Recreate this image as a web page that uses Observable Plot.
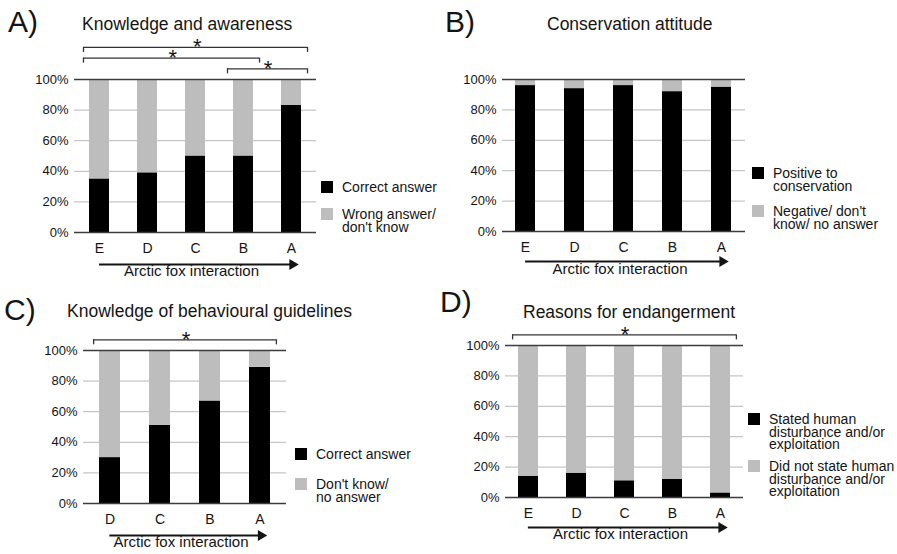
<!DOCTYPE html>
<html>
<head>
<meta charset="utf-8">
<script src="https://cdn.jsdelivr.net/npm/d3@7"></script>
<script src="https://cdn.jsdelivr.net/npm/@observablehq/plot@0.6"></script>
<style>
  html, body { margin: 0; padding: 0; background: #fff; }
  #figure { position: relative; width: 897px; height: 554px; overflow: hidden;
            font-family: "Liberation Sans", Arial, Helvetica, sans-serif; color: #141414; }
  .panel { position: absolute; }
  .panel svg { display: block; background: transparent; overflow: visible; }
  .letter, .title, .legend-text { position: absolute; white-space: pre; line-height: 1; }
  .letter { font-size: 30px; }
  .title { font-size: 17.5px; }
  .legend-swatch { position: absolute; width: 12px; height: 12px; }
  .legend-text { font-size: 14px; line-height: 12.5px; }
</style>
</head>
<body>
<div id="figure"></div>
<script>
// Interaction groups, from least (E) to most (A) contact with arctic foxes
const groupsAll = ["E", "D", "C", "B", "A"];
const groupsGuide = ["D", "C", "B", "A"];
const yTicks = [0, 20, 40, 60, 80, 100];
const axisCaption = "Arctic fox interaction";

// A) Knowledge and awareness (% of respondents)
const knowSeries = ["Correct answer", "Wrong answer/\ndon't know"];
const knowCorrect = [35, 39, 50, 50, 83];
const knowWrong = [65, 61, 50, 50, 17];
const knowSig = [
  {from: "E", to: "A", level: 3},
  {from: "E", to: "B", level: 2},
  {from: "B", to: "A", level: 1}
];

// B) Conservation attitude
const attSeries = ["Positive to\nconservation", "Negative/ don't\nknow/ no answer"];
const attPositive = [96, 94, 96, 92, 95];
const attNegative = [4, 6, 4, 8, 5];
const attSig = [];

// C) Knowledge of behavioural guidelines
const guideSeries = ["Correct answer", "Don't know/\nno answer"];
const guideCorrect = [30, 51, 67, 89];
const guideNoAnswer = [70, 49, 33, 11];
const guideSig = [{from: "D", to: "A", level: 1}];

// D) Reasons for endangerment
const reasonSeries = ["Stated human\ndisturbance and/or\nexploitation", "Did not state human\ndisturbance and/or\nexploitation"];
const reasonStated = [14, 16, 11, 12, 3];
const reasonNotStated = [86, 84, 89, 88, 97];
const reasonSig = [{from: "E", to: "A", level: 1}];

const panels = [
  {letter: "A)", title: "Knowledge and awareness", groups: groupsAll,
   series: knowSeries, lower: knowCorrect, upper: knowWrong, sig: knowSig,
   box: {left: 0, top: 0, width: 448, height: 280},
   margin: {top: 79, right: 132, bottom: 48, left: 74}, paddingOuter: 0.27,
   letterAt: {left: 8, top: 7}, titleAt: {left: 82, top: 16},
   legendAt: {left: 321, tops: [181, 208]}, arrowGap: 32, captionGap: 43},
  {letter: "B)", title: "Conservation attitude", groups: groupsAll,
   series: attSeries, lower: attPositive, upper: attNegative, sig: attSig,
   box: {left: 450, top: 0, width: 447, height: 280},
   margin: {top: 79, right: 152, bottom: 49, left: 52}, paddingOuter: 0.27,
   letterAt: {left: 445, top: 7}, titleAt: {left: 547, top: 16},
   legendAt: {left: 752, tops: [167, 205]}, arrowGap: 30, captionGap: 42},
  {letter: "C)", title: "Knowledge of behavioural guidelines", groups: groupsGuide,
   series: guideSeries, lower: guideCorrect, upper: guideNoAnswer, sig: guideSig,
   box: {left: 0, top: 280, width: 448, height: 274},
   margin: {top: 70, right: 162, bottom: 51, left: 83}, paddingOuter: 0.3,
   letterAt: {left: 4, top: 295}, titleAt: {left: 67, top: 303},
   legendAt: {left: 295, tops: [448, 478]}, arrowGap: 32, captionGap: 43},
  {letter: "D)", title: "Reasons for endangerment", groups: groupsAll,
   series: reasonSeries, lower: reasonStated, upper: reasonNotStated, sig: reasonSig,
   box: {left: 450, top: 280, width: 447, height: 274},
   margin: {top: 65, right: 154, bottom: 57, left: 55}, paddingOuter: 0.26,
   letterAt: {left: 440, top: 287}, titleAt: {left: 523, top: 304},
   legendAt: {left: 748, tops: [413, 460]}, arrowGap: 30, captionGap: 41}
];

const colors = ["#000000", "#bdbdbd"];
const ink = "#141414";
const paddingInner = 0.59;
const figure = document.getElementById("figure");

function drawPanel(p) {
  const rows = p.groups.flatMap((g, i) => [
    {group: g, answer: p.series[0], share: p.lower[i]},
    {group: g, answer: p.series[1], share: p.upper[i]}
  ]);
  const n = p.groups.length;
  const plotWidth = p.box.width - p.margin.left - p.margin.right;
  const step = plotWidth / (n - paddingInner + 2 * p.paddingOuter);
  const bw = step * (1 - paddingInner);
  const first = p.groups[0], last = p.groups[n - 1];
  const brackets = p.sig.map((s) => ({...s, y: 100 + 7 * s.level}));

  const marks = [
    Plot.ruleY(yTicks.filter((t) => t > 0 && t < 100), {stroke: "#c6c6c6", strokeWidth: 1.3}),
    Plot.barY(rows, {x: "group", y: "share", fill: "answer"}),
    Plot.ruleY([0, 100], {stroke: "#3c3c3c", strokeWidth: 1.6}),
    Plot.axisY({ticks: yTicks, tickFormat: (d) => d + "%", tickSize: 0, tickPadding: 6,
                fontSize: 13, fill: ink, label: null}),
    Plot.axisX({tickSize: 0, tickPadding: 11, fontSize: 14, fill: ink, label: null}),
    // arrow under the group labels, pointing towards more interaction
    Plot.ruleY([0], {x1: () => first, x2: () => last, dy: p.arrowGap,
                     insetLeft: bw / 2, insetRight: bw / 2 - 2, stroke: ink, strokeWidth: 2}),
    Plot.dot([last], {x: (d) => d, y: () => 0, dy: p.arrowGap, dx: 1, symbol: "triangle",
                      r: 4, rotate: 90, fill: ink, stroke: "none"}),
    Plot.text([axisCaption], {frameAnchor: "bottom", dy: p.captionGap, dx: -4,
                              fontSize: 15, fill: ink}),
    // significance brackets
    Plot.ruleY(brackets, {x1: "from", x2: "to", y: "y", insetLeft: -6, insetRight: -6,
                          stroke: "#333", strokeWidth: 1.3}),
    Plot.ruleX(brackets, {x: "from", y1: "y", y2: (d) => d.y - 3.3, dx: -(bw / 2 + 6),
                          stroke: "#333", strokeWidth: 1.3}),
    Plot.ruleX(brackets, {x: "to", y1: "y", y2: (d) => d.y - 3.3, dx: bw / 2 + 6,
                          stroke: "#333", strokeWidth: 1.3}),
    ...brackets.map((b) => Plot.text([b], {
      x: "from", y: "y", text: () => "*",
      dx: (p.groups.indexOf(b.to) - p.groups.indexOf(b.from)) * step / 2,
      dy: 0, fontSize: 22, fill: ink
    }))
  ];

  const chart = Plot.plot({
    width: p.box.width,
    height: p.box.height,
    marginTop: p.margin.top,
    marginRight: p.margin.right,
    marginBottom: p.margin.bottom,
    marginLeft: p.margin.left,
    style: {background: "transparent", fontFamily: "'Liberation Sans', Arial, sans-serif",
            color: ink, overflow: "visible"},
    x: {type: "band", domain: p.groups, paddingInner, paddingOuter: p.paddingOuter,
        align: 0.5, label: null},
    y: {domain: [0, 100], label: null},
    color: {domain: p.series, range: colors},
    marks
  });

  const holder = document.createElement("div");
  holder.className = "panel";
  Object.assign(holder.style, {left: p.box.left + "px", top: p.box.top + "px",
                               width: p.box.width + "px", height: p.box.height + "px"});
  holder.appendChild(chart);
  figure.appendChild(holder);

  const letter = document.createElement("div");
  letter.className = "letter";
  letter.textContent = p.letter;
  Object.assign(letter.style, {left: p.letterAt.left + "px", top: p.letterAt.top + "px"});
  figure.appendChild(letter);

  const title = document.createElement("div");
  title.className = "title";
  title.textContent = p.title;
  Object.assign(title.style, {left: p.titleAt.left + "px", top: p.titleAt.top + "px"});
  figure.appendChild(title);

  p.series.forEach((label, k) => {
    const sw = document.createElement("div");
    sw.className = "legend-swatch";
    Object.assign(sw.style, {left: p.legendAt.left + "px", top: p.legendAt.tops[k] + "px",
                             background: colors[k]});
    figure.appendChild(sw);
    const tx = document.createElement("div");
    tx.className = "legend-text";
    tx.textContent = label;
    Object.assign(tx.style, {left: (p.legendAt.left + 21) + "px", top: p.legendAt.tops[k] + "px"});
    figure.appendChild(tx);
  });
}

panels.forEach(drawPanel);
</script>
</body>
</html>
